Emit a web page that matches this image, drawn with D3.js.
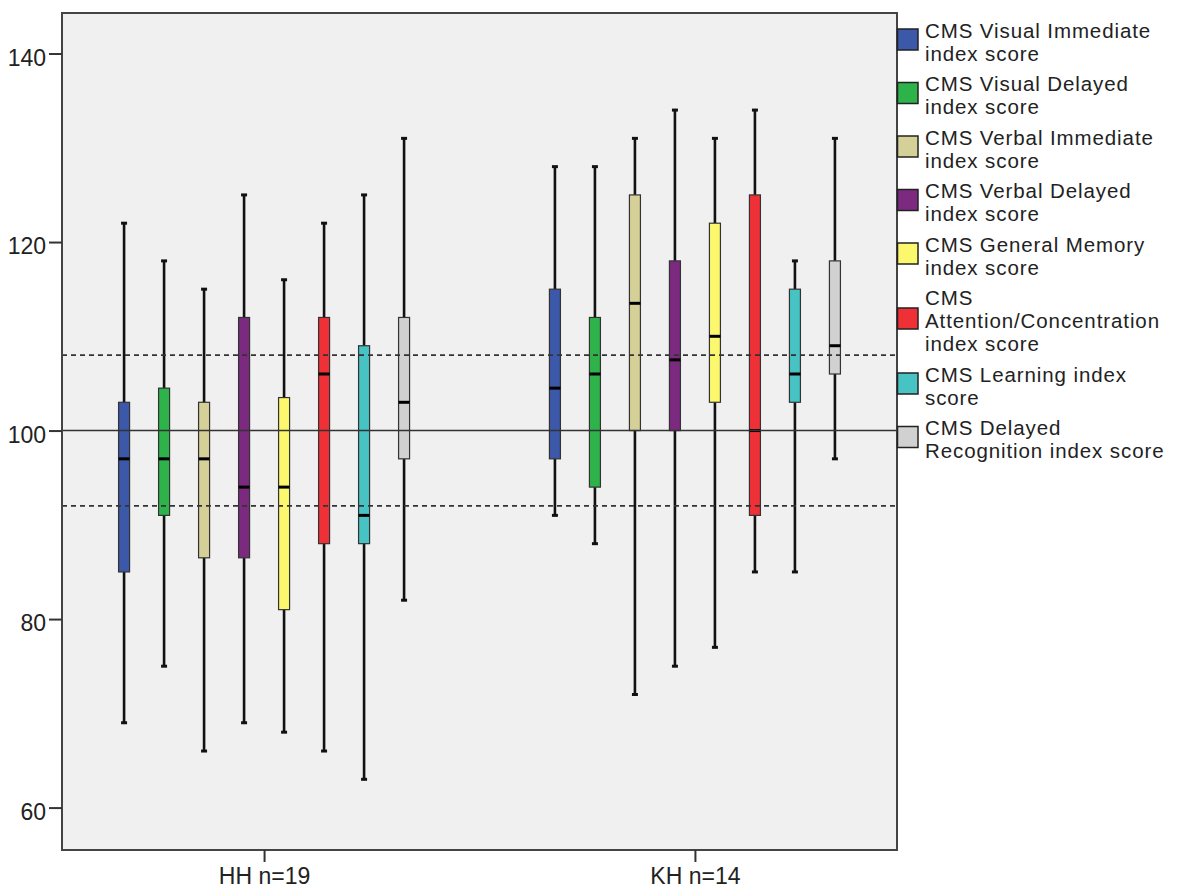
<!DOCTYPE html>
<html>
<head>
<meta charset="utf-8">
<script src="https://cdn.jsdelivr.net/npm/d3@7"></script>
<style>
  html, body { margin: 0; padding: 0; background: #ffffff; }
  svg { display: block; }
  text { font-family: "Liberation Sans", Arial, sans-serif; fill: #222; }
</style>
</head>
<body>
<svg id="chart" width="1183" height="892"></svg>
<script>
// Groups along the x axis
const groups = ["HH n=19", "KH n=14"];

// CMS index scores (legend entries, with their line breaks)
const seriesLines = [
  ["CMS Visual Immediate", "index score"],
  ["CMS Visual Delayed", "index score"],
  ["CMS Verbal Immediate", "index score"],
  ["CMS Verbal Delayed", "index score"],
  ["CMS General Memory", "index score"],
  ["CMS", "Attention/Concentration", "index score"],
  ["CMS Learning index", "score"],
  ["CMS Delayed", "Recognition index score"]
];
const seriesColors = ["#3c58a9", "#2eb34b", "#d5d097", "#7b2a80", "#fcf86e", "#ef3137", "#47c3c4", "#d1d1d1"];

// Box plot statistics, one value per index score
const hhMin    = [69, 75, 66, 69, 68, 66, 63, 82];
const hhQ1     = [85, 91, 86.5, 86.5, 81, 88, 88, 97];
const hhMedian = [97, 97, 97, 94, 94, 106, 91, 103];
const hhQ3     = [103, 104.5, 103, 112, 103.5, 112, 109, 112];
const hhMax    = [122, 118, 115, 125, 116, 122, 125, 131];

const khMin    = [91, 88, 72, 75, 77, 85, 85, 97];
const khQ1     = [97, 94, 100, 100, 103, 91, 103, 106];
const khMedian = [104.5, 106, 113.5, 107.5, 110, 100, 106, 109];
const khQ3     = [115, 112, 125, 118, 122, 125, 115, 118];
const khMax    = [128, 128, 131, 134, 131, 134, 118, 131];

// Norm reference lines: mean 100, +/- 8
const refLines = [92, 100, 108];
const yTicks = [60, 80, 100, 120, 140];

const statsByGroup = [
  { min: hhMin, q1: hhQ1, median: hhMedian, q3: hhQ3, max: hhMax },
  { min: khMin, q1: khQ1, median: khMedian, q3: khQ3, max: khMax }
];

const boxes = [];
groups.forEach((g, gi) => {
  const s = statsByGroup[gi];
  seriesLines.forEach((lines, si) => {
    boxes.push({
      group: g, series: si,
      min: s.min[si], q1: s.q1[si], median: s.median[si], q3: s.q3[si], max: s.max[si]
    });
  });
});

const svg = d3.select("#chart");
const plot = { left: 62, right: 897, top: 13, bottom: 850 };

const y = d3.scaleLinear().domain([55.5, 144.3]).range([plot.bottom, plot.top]);
const x = d3.scalePoint().domain(groups).range([plot.left, plot.right]).padding(0.469);
const inner = d3.scaleBand().domain(d3.range(seriesLines.length)).range([-160, 160]);
const boxW = 11;
const cx = d => x(d.group) + inner(d.series) + inner.bandwidth() / 2;

// Plot background
svg.append("rect")
  .attr("x", plot.left).attr("y", plot.top)
  .attr("width", plot.right - plot.left).attr("height", plot.bottom - plot.top)
  .attr("fill", "#f0f0f0");

const marks = svg.append("g");

// Whiskers
marks.selectAll("line.wlo").data(boxes).join("line")
  .attr("x1", cx).attr("x2", cx)
  .attr("y1", d => y(d.min)).attr("y2", d => y(d.q1))
  .attr("stroke", "#111").attr("stroke-width", 2.6);
marks.selectAll("line.whi").data(boxes).join("line")
  .attr("x1", cx).attr("x2", cx)
  .attr("y1", d => y(d.q3)).attr("y2", d => y(d.max))
  .attr("stroke", "#111").attr("stroke-width", 2.6);

// Whisker caps
["min", "max"].forEach(k => {
  marks.selectAll("line.cap-" + k).data(boxes).join("line")
    .attr("x1", d => cx(d) - 3).attr("x2", d => cx(d) + 3)
    .attr("y1", d => y(d[k])).attr("y2", d => y(d[k]))
    .attr("stroke", "#111").attr("stroke-width", 3);
});

// Boxes
marks.selectAll("rect.box").data(boxes).join("rect")
  .attr("x", d => cx(d) - boxW / 2).attr("width", boxW)
  .attr("y", d => y(d.q3)).attr("height", d => y(d.q1) - y(d.q3))
  .attr("fill", d => seriesColors[d.series])
  .attr("stroke", "#333").attr("stroke-width", 1.2);

// Medians
marks.selectAll("line.median").data(boxes).join("line")
  .attr("x1", d => cx(d) - boxW / 2).attr("x2", d => cx(d) + boxW / 2)
  .attr("y1", d => y(d.median)).attr("y2", d => y(d.median))
  .attr("stroke", "#000").attr("stroke-width", 3);

// Reference lines drawn over the boxes
svg.append("g").selectAll("line").data(refLines).join("line")
  .attr("x1", plot.left).attr("x2", plot.right)
  .attr("y1", d => y(d)).attr("y2", d => y(d))
  .attr("stroke", "#333")
  .attr("stroke-width", d => d === 100 ? 1.6 : 1.8)
  .attr("stroke-dasharray", d => d === 100 ? null : "5,4");

// Plot frame
svg.append("rect")
  .attr("x", plot.left).attr("y", plot.top)
  .attr("width", plot.right - plot.left).attr("height", plot.bottom - plot.top)
  .attr("fill", "none").attr("stroke", "#444").attr("stroke-width", 2);

// Y axis
const yAxis = svg.append("g")
  .attr("transform", `translate(${plot.left},0)`)
  .call(d3.axisLeft(y).tickValues(yTicks).tickSize(13).tickPadding(3));
yAxis.select(".domain").remove();
yAxis.selectAll(".tick line").attr("stroke", "#333").attr("stroke-width", 2);
yAxis.selectAll(".tick text").attr("dy", "0.5em")
  .style("font-size", "23px").attr("fill", "#222")
  .style("font-family", '"Liberation Sans", Arial, sans-serif');

// X axis
const xAxis = svg.append("g")
  .attr("transform", `translate(0,${plot.bottom})`)
  .call(d3.axisBottom(x).tickSize(12).tickPadding(6));
xAxis.select(".domain").remove();
xAxis.selectAll(".tick line").attr("stroke", "#333").attr("stroke-width", 2);
xAxis.selectAll(".tick text")
  .style("font-size", "23px").attr("fill", "#222")
  .style("font-family", '"Liberation Sans", Arial, sans-serif');

// Legend
const lh = 23, cap = 15;
const legend = svg.append("g");
let prevH = null, cy = 39.5;
seriesLines.forEach((lines, i) => {
  const h = lines.length * lh + 7.5;
  if (prevH !== null) cy += (prevH + h) / 2;
  prevH = h;
  const item = legend.append("g");
  item.append("rect")
    .attr("x", 897.5).attr("y", cy - 10.5)
    .attr("width", 20.5).attr("height", 21)
    .attr("fill", seriesColors[i]).attr("stroke", "#222").attr("stroke-width", 1.5);
  const blockH = cap + (lines.length - 1) * lh;
  const firstBase = cy + 2 - blockH / 2 + cap;
  const t = item.append("text")
    .attr("x", 925).attr("y", firstBase)
    .style("font-size", "20.5px")
    .style("letter-spacing", "0.9px");
  lines.forEach((ln, k) => {
    t.append("tspan").attr("x", 925).attr("y", firstBase + k * lh).text(ln);
  });
});
</script>
</body>
</html>
